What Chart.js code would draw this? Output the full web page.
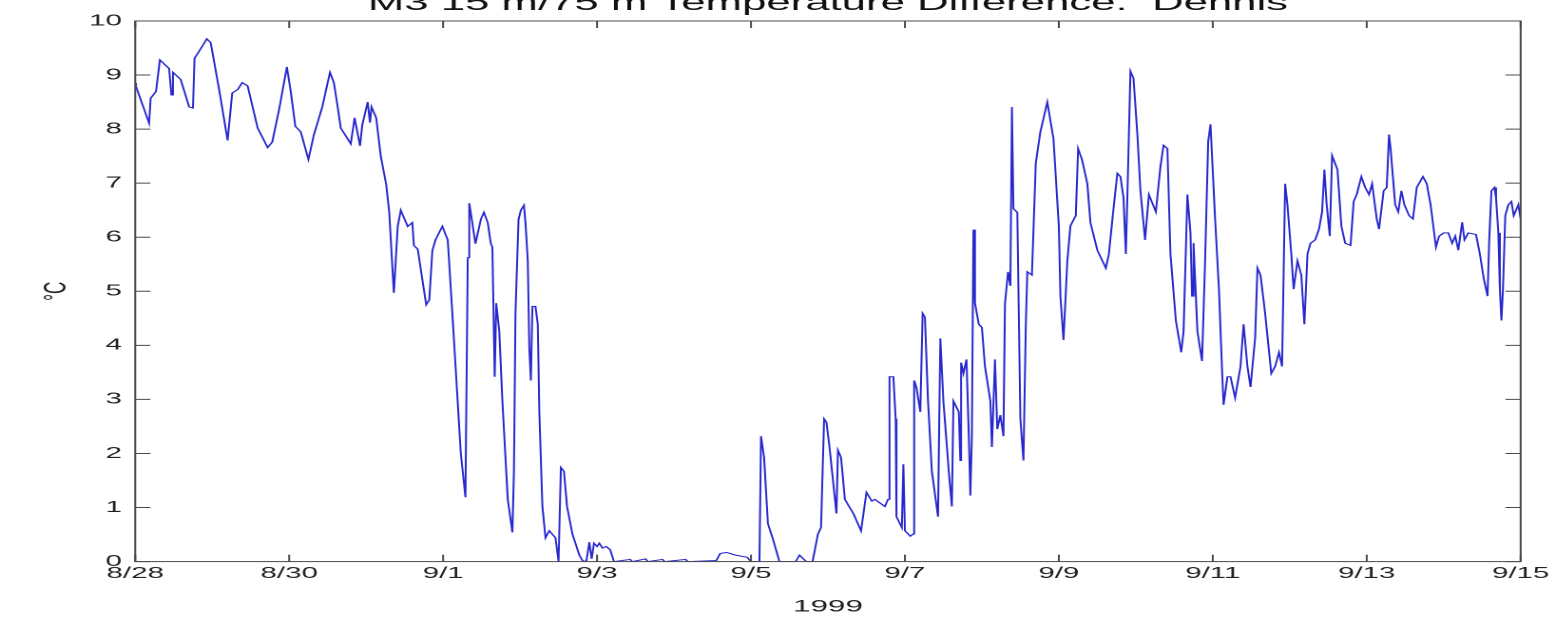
<!DOCTYPE html>
<html>
<head>
<meta charset="utf-8">
<script src="https://cdn.jsdelivr.net/npm/chart.js@4.4.1/dist/chart.umd.min.js"></script>
<style>
  html, body { margin: 0; padding: 0; background: #fff; overflow: hidden; width: 1555px; height: 619px; }
  /* the original figure is stretched sideways, so the chart is drawn narrow and widened */
  #wrap { position: absolute; left: 0; top: -14px; transform: scaleX(1.901); transform-origin: 0 0; }
</style>
</head>
<body>
<div id="wrap"><canvas id="myChart" width="818" height="633"></canvas></div>
<script>
// days since 8/28/1999 and the 15 m - 75 m temperature difference (deg C)
const dayOffsets = [
  0.00, 0.01, 0.18, 0.20, 0.27, 0.32, 0.44, 0.47, 0.49, 0.59, 0.70, 0.75, 0.77, 0.83, 0.93, 0.98,
  1.09, 1.20, 1.26, 1.33, 1.39, 1.46, 1.59, 1.72, 1.78, 1.87, 1.97, 2.02, 2.08, 2.15, 2.25, 2.32,
  2.43, 2.53, 2.58, 2.63, 2.67, 2.80, 2.85, 2.92, 2.95, 3.02, 3.05, 3.07, 3.13, 3.19, 3.26, 3.30,
  3.36, 3.41, 3.45, 3.54, 3.60, 3.62, 3.67, 3.78, 3.82, 3.86, 3.90, 3.99, 4.06, 4.12, 4.23, 4.29,
  4.32, 4.34, 4.42, 4.49, 4.53, 4.58, 4.62, 4.64, 4.67, 4.69, 4.73, 4.77, 4.84, 4.90, 4.92, 4.94,
  4.98, 5.01, 5.05, 5.07, 5.10, 5.12, 5.14, 5.16, 5.20, 5.23, 5.25, 5.29, 5.33, 5.38, 5.46, 5.50,
  5.53, 5.57, 5.61, 5.68, 5.77, 5.81, 5.86, 5.90, 5.93, 5.96, 6.00, 6.03, 6.07, 6.12, 6.17, 6.22,
  6.43, 6.46, 6.63, 6.66, 6.85, 6.88, 7.15, 7.18, 7.55, 7.60, 7.68, 7.80, 7.95, 8.00, 8.11, 8.13,
  8.17, 8.22, 8.28, 8.37, 8.58, 8.63, 8.68, 8.72, 8.80, 8.87, 8.91, 8.95, 8.98, 9.02, 9.11, 9.13,
  9.17, 9.22, 9.33, 9.43, 9.50, 9.57, 9.61, 9.67, 9.74, 9.78, 9.80, 9.85, 9.88, 9.89, 9.96, 9.98,
  10.00, 10.07, 10.11, 10.12, 10.15, 10.20, 10.23, 10.26, 10.30, 10.35, 10.43, 10.46, 10.50, 10.57, 10.61, 10.63,
  10.70, 10.72, 10.73, 10.76, 10.80, 10.83, 10.85, 10.87, 10.89, 10.91, 10.96, 11.00, 11.04, 11.11, 11.13, 11.17,
  11.20, 11.24, 11.28, 11.30, 11.34, 11.37, 11.39, 11.41, 11.46, 11.50, 11.54, 11.57, 11.59, 11.65, 11.70, 11.76,
  11.85, 11.93, 12.00, 12.02, 12.06, 12.11, 12.15, 12.22, 12.25, 12.30, 12.37, 12.41, 12.50, 12.61, 12.65, 12.71,
  12.76, 12.80, 12.84, 12.87, 12.89, 12.93, 12.97, 13.02, 13.06, 13.12, 13.17, 13.26, 13.32, 13.36, 13.41, 13.45,
  13.52, 13.59, 13.62, 13.67, 13.71, 13.73, 13.75, 13.80, 13.86, 13.90, 13.94, 13.97, 14.03, 14.08, 14.12, 14.14,
  14.19, 14.23, 14.29, 14.36, 14.40, 14.45, 14.49, 14.55, 14.58, 14.62, 14.68, 14.76, 14.81, 14.86, 14.90, 14.94,
  14.97, 15.02, 15.05, 15.10, 15.15, 15.19, 15.23, 15.27, 15.33, 15.38, 15.42, 15.45, 15.48, 15.52, 15.55, 15.62,
  15.67, 15.72, 15.79, 15.83, 15.87, 15.93, 15.98, 16.03, 16.07, 16.13, 16.16, 16.22, 16.26, 16.29, 16.31, 16.37,
  16.41, 16.45, 16.49, 16.55, 16.60, 16.65, 16.73, 16.78, 16.83, 16.87, 16.90, 16.94, 17.00, 17.06, 17.11, 17.15,
  17.19, 17.24, 17.27, 17.32, 17.42, 17.47, 17.52, 17.57, 17.59, 17.62, 17.66, 17.68, 17.71, 17.73, 17.75, 17.77,
  17.80, 17.84, 17.88, 17.91, 17.97, 18.00
];
const tempDiff = [
  8.85, 8.79, 8.11, 8.57, 8.70, 9.28, 9.12, 8.63, 9.05, 8.92, 8.41, 8.39, 9.31, 9.44, 9.67, 9.60,
  8.73, 7.79, 8.67, 8.73, 8.86, 8.80, 8.02, 7.66, 7.76, 8.37, 9.15, 8.70, 8.05, 7.95, 7.44, 7.89,
  8.41, 9.05, 8.86, 8.41, 8.02, 7.73, 8.21, 7.69, 8.08, 8.50, 8.12, 8.41, 8.21, 7.50, 6.98, 6.46,
  4.97, 6.20, 6.50, 6.20, 6.27, 5.85, 5.78, 4.75, 4.84, 5.75, 5.95, 6.20, 5.95, 4.59, 2.00, 1.19,
  5.62, 6.63, 5.88, 6.33, 6.46, 6.27, 5.88, 5.82, 3.42, 4.78, 4.26, 2.97, 1.15, 0.54, 1.67, 4.59,
  6.33, 6.50, 6.59, 6.27, 5.56, 3.94, 3.35, 4.72, 4.72, 4.39, 2.77, 1.02, 0.44, 0.57, 0.44, 0.00,
  1.74, 1.67, 1.02, 0.51, 0.12, 0.02, 0.00, 0.36, 0.05, 0.34, 0.28, 0.34, 0.25, 0.28, 0.22, 0.00,
  0.04, 0.00, 0.05, 0.00, 0.04, 0.00, 0.04, 0.00, 0.02, 0.15, 0.17, 0.12, 0.08, 0.00, 0.00, 2.32,
  1.93, 0.70, 0.44, 0.00, 0.00, 0.12, 0.05, 0.00, 0.00, 0.51, 0.63, 2.64, 2.58, 2.12, 0.89, 2.06,
  1.93, 1.15, 0.89, 0.57, 1.28, 1.12, 1.15, 1.09, 1.02, 1.15, 3.42, 3.42, 2.64, 0.83, 0.63, 1.80,
  0.57, 0.47, 0.51, 3.35, 3.22, 2.77, 4.59, 4.52, 2.97, 1.67, 0.83, 4.13, 2.97, 1.67, 1.02, 2.97,
  2.77, 1.87, 3.68, 3.48, 3.74, 2.32, 1.22, 2.32, 6.14, 4.78, 4.39, 4.33, 3.61, 2.97, 2.12, 3.74,
  2.45, 2.71, 2.32, 4.78, 5.36, 5.10, 8.41, 6.53, 6.46, 2.64, 1.87, 4.33, 5.36, 5.30, 7.37, 7.95,
  8.50, 7.82, 6.20, 4.91, 4.10, 5.56, 6.21, 6.40, 7.64, 7.44, 6.99, 6.27, 5.76, 5.43, 5.69, 6.53,
  7.18, 7.12, 6.73, 5.69, 6.73, 9.07, 8.94, 7.90, 6.86, 5.95, 6.79, 6.47, 7.31, 7.70, 7.64, 5.69,
  4.46, 3.87, 4.26, 6.79, 6.08, 4.91, 5.89, 4.26, 3.71, 5.56, 7.77, 8.09, 6.34, 5.04, 3.55, 2.90,
  3.42, 3.42, 3.03, 3.61, 4.39, 3.61, 3.23, 4.13, 5.43, 5.30, 4.59, 3.48, 3.61, 3.87, 3.61, 6.99,
  6.60, 5.69, 5.04, 5.56, 5.30, 4.39, 5.69, 5.89, 5.95, 6.15, 6.47, 7.25, 6.60, 6.02, 7.51, 7.25,
  6.21, 5.89, 5.85, 6.66, 6.79, 7.12, 6.92, 6.79, 6.99, 6.34, 6.15, 6.86, 6.92, 7.90, 7.64, 6.60,
  6.47, 6.86, 6.60, 6.40, 6.34, 6.92, 7.12, 6.99, 6.60, 6.15, 5.82, 6.02, 6.08, 6.08, 5.89, 6.02,
  5.76, 6.28, 5.95, 6.08, 6.05, 5.69, 5.24, 4.91, 5.89, 6.86, 6.92, 6.73, 6.08, 5.04, 4.46, 5.04,
  6.40, 6.60, 6.66, 6.40, 6.60, 6.34
];
const tickLabels = ['8/28', '8/30', '9/1', '9/3', '9/5', '9/7', '9/9', '9/11', '9/13', '9/15'];
const chartTitle = 'M3 15 m/75 m Temperature Difference:  Dennis';
const xTitle = '1999';
const yTitle = '°C';

const axisColor = '#4a4a4a';
const fontFamily = '"Liberation Sans", Arial, Helvetica, sans-serif';

// matlab style box with the tick marks pointing inwards
const inwardTicks = {
  id: 'inwardTicks',
  afterDraw(chart) {
    const { ctx, chartArea: a, scales } = chart;
    ctx.save();
    ctx.strokeStyle = axisColor;
    ctx.lineWidth = 1;
    ctx.beginPath();
    scales.x.ticks.forEach((t) => {
      const px = scales.x.getPixelForValue(t.value);
      ctx.moveTo(px, a.bottom);
      ctx.lineTo(px, a.bottom - 7);
      ctx.moveTo(px, a.top);
      ctx.lineTo(px, a.top + 7);
    });
    scales.y.ticks.forEach((t) => {
      const py = scales.y.getPixelForValue(t.value);
      ctx.moveTo(a.left, py);
      ctx.lineTo(a.left + 8, py);
      ctx.moveTo(a.right, py);
      ctx.lineTo(a.right - 8, py);
    });
    ctx.stroke();
    ctx.strokeRect(a.left, a.top, a.right - a.left, a.bottom - a.top);
    ctx.restore();
  }
};

const points = dayOffsets.map((d, i) => ({ x: d, y: tempDiff[i] }));
const ctx = document.getElementById('myChart').getContext('2d');

new Chart(ctx, {
  type: 'line',
  data: {
    datasets: [
      {
        label: 'dT',
        data: points,
        borderColor: 'rgb(40, 40, 205)',
        borderWidth: 1,
        pointRadius: 0,
        tension: 0,
        fill: false,
      },
    ],
  },
  options: {
    responsive: false,
    animation: false,
    devicePixelRatio: 2,
    layout: {
      padding: { left: 15.5, right: 16, top: 0, bottom: 2 },
    },
    scales: {
      x: {
        type: 'linear',
        min: 0,
        max: 18,
        grid: { display: false, drawTicks: false },
        border: { display: false },
        ticks: {
          stepSize: 2,
          padding: 3,
          color: '#222',
          font: { family: fontFamily, size: 15.5 },
          maxRotation: 0,
          autoSkip: false,
          callback: (value) => tickLabels[Math.round(value / 2)],
        },
        title: {
          display: true,
          text: xTitle,
          color: '#222',
          font: { family: fontFamily, size: 16.5 },
          padding: { top: 11, bottom: 0 },
        },
      },
      y: {
        min: 0,
        max: 10,
        grid: { display: false, drawTicks: false },
        border: { display: false },
        ticks: {
          stepSize: 1,
          padding: 7,
          color: '#222',
          font: { family: fontFamily, size: 15.5 },
        },
        title: {
          display: true,
          text: yTitle,
          color: '#222',
          font: { family: fontFamily, size: 17 },
          padding: { top: 4, bottom: 0 },
        },
      },
    },
    plugins: {
      legend: { display: false },
      tooltip: { enabled: false },
      title: {
        display: true,
        fullSize: false,
        text: chartTitle,
        color: '#111',
        font: { family: fontFamily, size: 23, weight: 'normal' },
        padding: { top: 4, bottom: 3.4 },
      },
    },
  },
  plugins: [inwardTicks],
});
</script>
</body>
</html>
